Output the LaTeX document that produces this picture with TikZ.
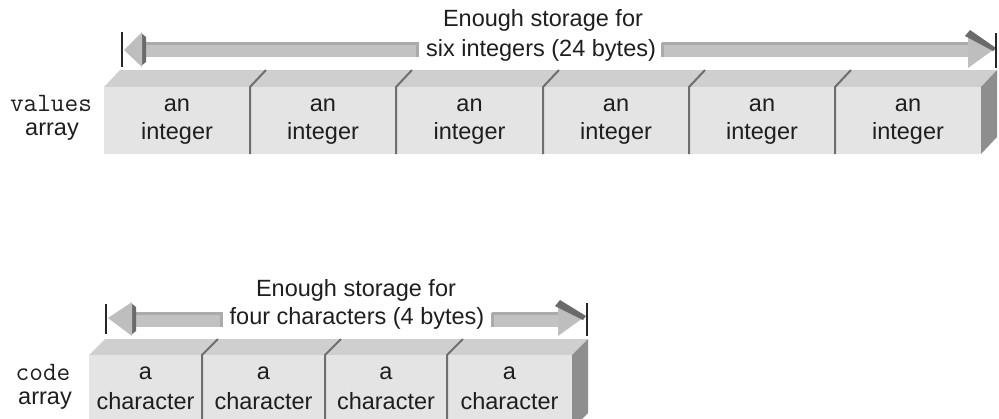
\documentclass[tikz,border=0pt]{standalone}
\usepackage{fontspec}
\setmainfont{Liberation Sans}
\definecolor{txt}{HTML}{1E1E1E}
\definecolor{front}{HTML}{E4E4E5}
\definecolor{topf}{HTML}{CFCFCF}
\definecolor{side}{HTML}{8E8E8E}
\definecolor{divc}{HTML}{6E6E6E}
\definecolor{shaft}{HTML}{C2C2C2}
\definecolor{shafttop}{HTML}{ABABAB}
\definecolor{headc}{HTML}{BEBEBE}
\definecolor{headdark}{HTML}{6A6A6A}
\begin{document}
\begin{tikzpicture}[x=1pt,y=-1pt,
  lbl/.style={inner sep=0pt,align=center,text=txt,font=\fontsize{23.5}{28}\selectfont},
  monolbl/.style={inner sep=0pt,text=txt,font=\fontsize{26.5}{28}\selectfont\ttfamily},
  frontface/.style={fill=front,draw=none},
  topface/.style={fill=topf,draw=none},
  sideface/.style={fill=side,draw=none},
  divline/.style={draw=divc,line width=2pt},
  endbar/.style={draw=black!85,line width=2pt},
  shaftbody/.style={fill=shaft,draw=none},
  shaftedge/.style={fill=shafttop,draw=none},
  headbody/.style={fill=headc,draw=none},
  headband/.style={fill=headdark,draw=none}]
\useasboundingbox (0,0) rectangle (999,418);
\begin{scope}
\clip (0,0) rectangle (999,418);
% ---------- top array ----------
\fill[topface] (104,87) -- (120,70) -- (997,70) -- (981,87) -- cycle;
\fill[frontface] (104,87) rectangle (981,154);
\fill[sideface] (981,87) -- (997,70) -- (997,137) -- (981,154) -- cycle;
\foreach \x in {250,396,543,689,835}{
  \draw[divline] (\x,154) -- (\x,87) -- (\x+16,70);
}
% ---------- bottom array ----------
\fill[topface] (89,355) -- (105,339) -- (588,339) -- (572,355) -- cycle;
\fill[frontface] (89,355) rectangle (572,430);
\fill[sideface] (572,355) -- (588,339) -- (588,413) -- (572,429) -- cycle;
\foreach \x in {202,325,447}{
  \draw[divline] (\x,430) -- (\x,355) -- (\x+16,339);
}
\end{scope}
% ---------- top arrows ----------
\coordinate (tl) at (122,50);
\coordinate (tr) at (996,50);
\draw[endbar] (122,32) -- (122,67);
\fill[shaftbody] (146,42) rectangle (418,57);
\fill[shaftedge] (146,42) rectangle (418,45);
\fill[shaftedge] (416,42) rectangle (419,57);
\fill[headband] (141,33) -- (146,37) -- (146,62) -- (141,66) -- cycle;
\fill[headbody] (124,50) -- (142,32) -- (142,67) -- cycle;
\fill[shaftbody] (662,42) rectangle (968,57);
\fill[shaftedge] (662,42) rectangle (968,45);
\fill[shaftedge] (661,43) rectangle (664,57);
\fill[headbody] (968,32) -- (993,50) -- (968,68) -- cycle;
\fill[headband] (965,36) -- (970,30) -- (996,48) -- (993,51) -- cycle;
\draw[endbar] (996,33) -- (996,68);
% ---------- bottom arrows ----------
\coordinate (bl) at (106,318);
\coordinate (br) at (587,318);
\draw[endbar] (106,304) -- (106,334);
\fill[shaftbody] (135,312) rectangle (222,327);
\fill[shaftedge] (135,312) rectangle (222,315);
\fill[shaftedge] (220,312) rectangle (223,327);
\fill[headband] (131,303) -- (136,307) -- (136,331) -- (131,335) -- cycle;
\fill[headbody] (108,318) -- (132,302) -- (132,336) -- cycle;
\fill[shaftbody] (492,312) rectangle (558,327);
\fill[shaftedge] (492,312) rectangle (558,315);
\fill[shaftedge] (491,313) rectangle (494,327);
\fill[headbody] (558,302) -- (583,318) -- (558,336) -- cycle;
\fill[headband] (555,306) -- (560,300) -- (586,316) -- (583,320) -- cycle;
\draw[endbar] (587,303) -- (587,336);
% ---------- texts ----------
\node[lbl] (t1) at (543,20) {Enough storage for};
\node[lbl] (t2) at (541,50) {six integers (24 bytes)};
\node[lbl] (b1) at (356,290) {Enough storage for};
\node[lbl] (b2) at (357,318) {four characters (4 bytes)};
\node[monolbl] (vals) at (51,103) {values};
\node[lbl] (vala) at (52,132) {array};
\node[monolbl] (code) at (43,372) {code};
\node[lbl] (codea) at (45,401) {array};
\foreach \c [count=\i] in {177,323,469.5,616,762,908}{
  \node[lbl] (an\i) at (\c,105) {an};
  \node[lbl] (int\i) at (\c,133) {integer};
}
\foreach \c [count=\i] in {145.5,263.5,386,509.5}{
  \node[lbl] (a\i) at (\c,373) {a};
  \node[lbl] (ch\i) at (\c,401) {character};
}
\end{tikzpicture}
\end{document}
